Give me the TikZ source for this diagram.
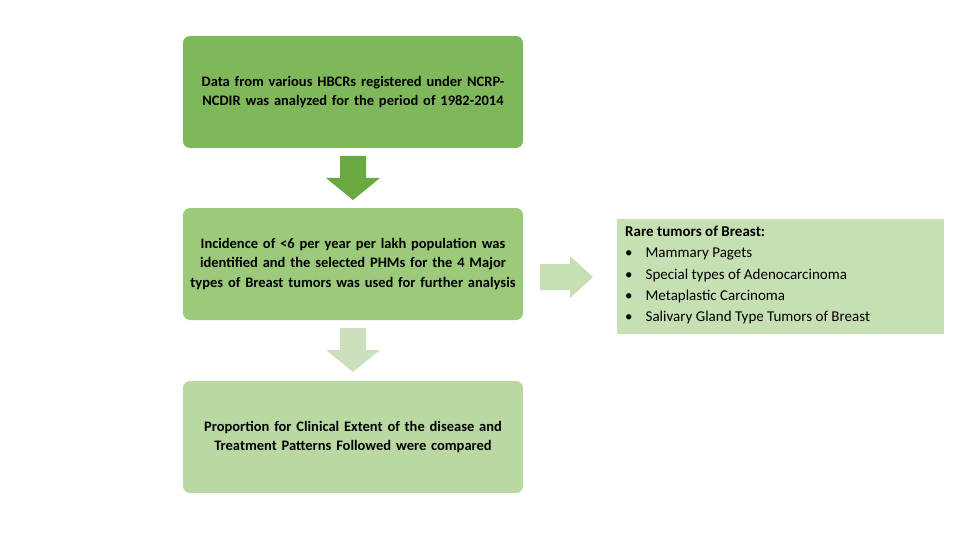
\documentclass[tikz,border=0pt]{standalone}
\usepackage{fontspec}
\setmainfont{Carlito}
\begin{document}
\begin{tikzpicture}[x=1pt,y=-1pt,
 box/.style={rounded corners=7pt,draw=none,text width=330pt,align=center,font=\bfseries\fontsize{14.5}{19.5}\selectfont,inner sep=0pt,text=black},
 darrow/.style={draw=none}]
\definecolor{g1}{HTML}{7FB85A}
\definecolor{g2}{HTML}{9CC97A}
\definecolor{g3}{HTML}{B9D8A2}
\definecolor{a1}{HTML}{6AA842}
\definecolor{a2}{HTML}{CCE0BD}
\definecolor{rb}{HTML}{C6E0B4}
\useasboundingbox (0,0) rectangle (960,540);
\fill[g1,rounded corners=7pt] (183,36) rectangle (523,148);
\node[box] (b1) at (353,92) {Data from various HBCRs registered under NCRP-NCDIR was analyzed for the period of 1982-2014};
\fill[g2,rounded corners=7pt] (183,208) rectangle (523,320);
\node[box] (b2) at (353,264) {Incidence of <6 per year per lakh population was identified and the selected PHMs for the 4 Major types of Breast tumors was used for further analysis};
\fill[g3,rounded corners=7pt] (183,381) rectangle (523,493);
\node[box] (b3) at (353,437) {Proportion for Clinical Extent of the disease and Treatment Patterns Followed were compared};
\fill[a1] (340,156) -- (366,156) -- (366,178) -- (380,178) -- (353,200) -- (326,178) -- (340,178) -- cycle;
\fill[a2] (340,328) -- (366,328) -- (366,350) -- (380,350) -- (353,372) -- (326,350) -- (340,350) -- cycle;
\fill[rb] (540,264) -- (570,264) -- (570,256) -- (593,277) -- (570,298) -- (570,290) -- (540,290) -- cycle;
\fill[rb] (617,219) rectangle (944,334);
\node[anchor=north west,inner sep=0pt,align=left,font=\fontsize{15}{21.3}\selectfont] (r) at (625,226) {\textbf{Rare tumors of Breast:}\\
•\hspace{13pt}Mammary Pagets\\
•\hspace{13pt}Special types of Adenocarcinoma\\
•\hspace{13pt}Metaplastic Carcinoma\\
•\hspace{13pt}Salivary Gland Type Tumors of Breast};
\end{tikzpicture}
\end{document}
